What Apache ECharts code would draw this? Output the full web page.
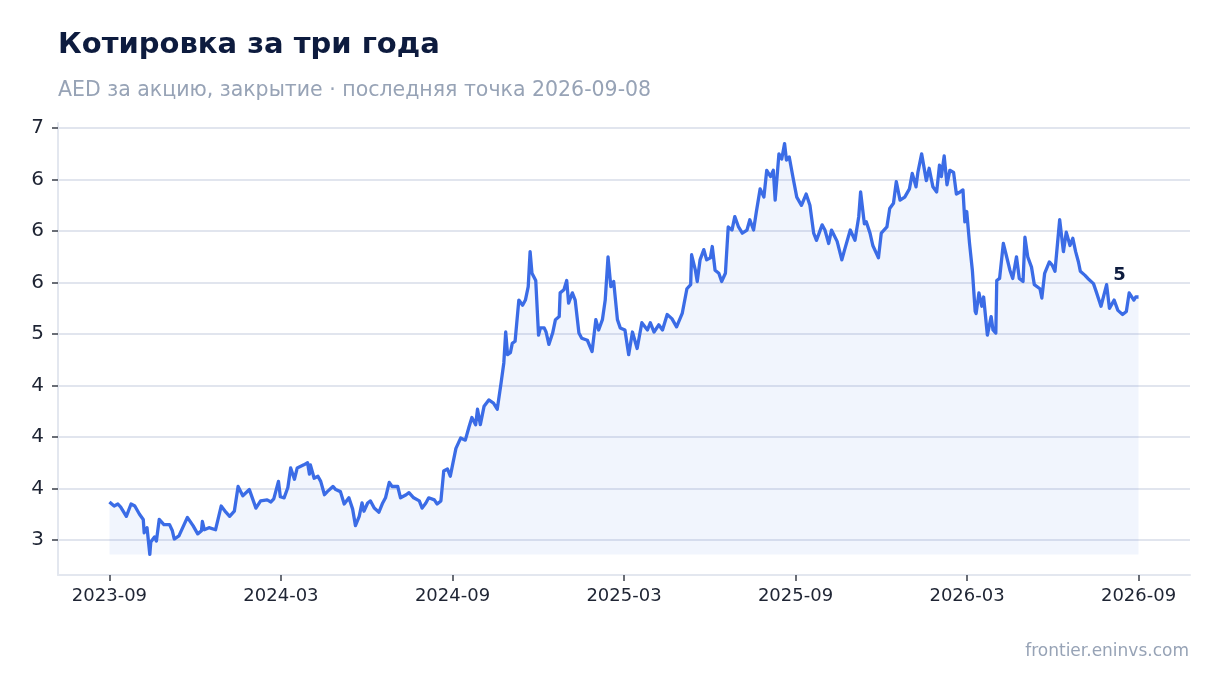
<!DOCTYPE html>
<html lang="ru">
<head>
<meta charset="utf-8">
<title>Котировка за три года</title>
<script src="https://cdn.jsdelivr.net/npm/echarts@6/dist/echarts.min.js"></script>
<style>
  html, body { margin: 0; padding: 0; background: #fff; }
  #chart { width: 1220px; height: 693px; }
</style>
</head>
<body>
<div id="chart"></div>
<script>
// days since the first close (2023-09-08) and closing price, AED per share
const days = [
  0, 5, 9, 12, 18, 23, 27, 32, 36, 37, 40, 43, 44, 48, 50, 53, 58, 64, 67, 69, 74, 83, 89, 94, 98, 99,
  101, 106, 113, 119, 124, 128, 133, 137, 142, 149, 156, 161, 168, 172, 175, 180, 182, 186,
  190, 193, 197, 200, 207, 211, 213, 214, 218, 222, 225, 229, 232, 238, 241, 246, 250, 255, 259, 262,
  266, 269, 271, 275, 278, 282, 287, 291, 294, 298, 301, 307, 310, 316, 319, 324, 330, 333, 337, 340,
  346, 349, 353, 356, 360, 363, 369, 374,
  379, 383, 386, 390, 392, 395, 399, 404, 409, 413, 417, 420, 422, 424, 427, 429, 432, 436, 440, 443,
  446, 448, 450, 454, 457, 459, 463, 465, 468, 472, 475, 479, 480, 484, 487, 489, 493, 496, 500, 503,
  509, 514, 518, 521, 525, 528, 531, 534, 537, 541, 544,
  549, 553, 557, 562, 567, 573, 576, 580, 585, 589, 594, 599, 604, 610, 615, 619, 620, 624, 626, 629,
  633, 636, 640, 642, 645, 649, 652, 656, 659, 663, 666, 670, 674, 679, 682, 686, 689, 693, 697, 700,
  704, 707, 709, 713, 716, 719, 721, 724, 728, 732,
  737, 742, 746, 750, 753, 759, 762, 766, 769, 775, 780, 783, 789, 794, 798, 800, 804, 806, 810, 813,
  815, 819, 822, 828, 831, 835, 838, 842, 847, 852, 855, 859, 861, 865, 870, 873, 877, 881, 884, 886,
  889, 892, 895, 899, 902, 906, 909, 911, 913, 916, 919, 922, 923,
  926, 929, 931, 935, 939, 941, 944, 945, 948, 952, 955, 959, 962, 966, 969, 973, 975, 978, 982, 985,
  991, 993, 996, 1001, 1004, 1007, 1012, 1016, 1019, 1023, 1026, 1029, 1032, 1034, 1039, 1042, 1048,
  1051, 1056, 1062, 1065, 1070, 1074, 1079, 1083, 1086, 1091, 1093, 1096
];
const closes = [
  3.37, 3.33, 3.35, 3.32, 3.23, 3.35, 3.33, 3.25, 3.20, 3.07, 3.12, 2.86, 2.98, 3.03, 2.99, 3.20, 3.15, 3.15, 3.09, 3.01, 3.04, 3.22, 3.14, 3.06, 3.09, 3.18,
  3.10, 3.12, 3.10, 3.33, 3.27, 3.23, 3.28, 3.52, 3.43, 3.49, 3.31, 3.38, 3.39, 3.37, 3.40, 3.57, 3.42, 3.41,
  3.51, 3.70, 3.59, 3.70, 3.73, 3.75, 3.64, 3.73, 3.60, 3.62, 3.57, 3.44, 3.47, 3.52, 3.49, 3.47, 3.35, 3.41, 3.30, 3.14,
  3.23, 3.36, 3.28, 3.36, 3.38, 3.31, 3.27, 3.36, 3.41, 3.56, 3.52, 3.52, 3.41, 3.44, 3.46, 3.41, 3.38, 3.31, 3.36, 3.41,
  3.39, 3.35, 3.38, 3.67, 3.69, 3.62, 3.89, 3.99,
  3.97, 4.10, 4.19, 4.12, 4.27, 4.12, 4.30, 4.36, 4.33, 4.27, 4.52, 4.72, 5.02, 4.80, 4.82, 4.91, 4.93, 5.33, 5.28, 5.33,
  5.46, 5.80, 5.59, 5.52, 4.99, 5.06, 5.06, 5.02, 4.90, 5.01, 5.14, 5.17, 5.40, 5.43, 5.52, 5.30, 5.40, 5.33, 5.01, 4.96,
  4.94, 4.83, 5.14, 5.04, 5.14, 5.33, 5.75, 5.46, 5.51, 5.14, 5.06,
  5.04, 4.80, 5.02, 4.86, 5.11, 5.04, 5.11, 5.02, 5.09, 5.04, 5.19, 5.15, 5.07, 5.20, 5.44, 5.48, 5.77, 5.62, 5.51, 5.72,
  5.82, 5.72, 5.74, 5.85, 5.62, 5.59, 5.51, 5.59, 6.04, 6.01, 6.14, 6.04, 5.98, 6.01, 6.11, 6.01, 6.19, 6.41, 6.33, 6.59,
  6.53, 6.59, 6.30, 6.75, 6.70, 6.85, 6.69, 6.72, 6.52, 6.33,
  6.25, 6.36, 6.25, 5.98, 5.91, 6.06, 6.01, 5.88, 6.01, 5.90, 5.72, 5.82, 6.01, 5.91, 6.14, 6.38, 6.07, 6.09, 5.98, 5.86,
  5.85, 5.74, 5.98, 6.04, 6.22, 6.27, 6.48, 6.30, 6.33, 6.41, 6.56, 6.43, 6.57, 6.75, 6.49, 6.61, 6.43, 6.38, 6.64, 6.53,
  6.73, 6.45, 6.59, 6.57, 6.36, 6.38, 6.40, 6.09, 6.19, 5.88, 5.62, 5.22, 5.20,
  5.40, 5.27, 5.36, 4.99, 5.17, 5.04, 5.01, 5.52, 5.54, 5.88, 5.77, 5.62, 5.54, 5.75, 5.54, 5.51, 5.94, 5.75, 5.65, 5.48,
  5.44, 5.35, 5.59, 5.70, 5.67, 5.61, 6.11, 5.80, 5.99, 5.86, 5.93, 5.80, 5.70, 5.61, 5.57, 5.54, 5.49,
  5.41, 5.27, 5.48, 5.25, 5.33, 5.23, 5.19, 5.22, 5.40, 5.33, 5.36, 5.36
];
const xTickLabels = ['2023-09', '2024-03', '2024-09', '2025-03', '2025-09', '2026-03', '2026-09'];
const yTickValues = [3, 3.5, 4, 4.5, 5, 5.5, 6, 6.5, 7];
const yTickLabels = ['3', '4', '4', '4', '5', '6', '6', '6', '7'];
const lastPointLabel = '5';

const points = days.map((d, i) => [d, closes[i]]);
const span = days[days.length - 1];
const xTickValues = xTickLabels.map((_, i) => i * span / (xTickLabels.length - 1));
const lowClose = Math.min(...closes);
const highClose = Math.max(...closes);
const pad = (highClose - lowClose) * 0.05;

const FONT = 'DejaVu Sans';
const chart = echarts.init(document.getElementById('chart'));

chart.setOption({
    animation: false,
    backgroundColor: '#ffffff',
    textStyle: { fontFamily: FONT },
    title: [
        {
            text: 'Котировка за три года',
            left: 53, top: 26,
            textStyle: { fontFamily: FONT, fontSize: 29, fontWeight: 'bold', color: '#0d1b3e' }
        },
        {
            text: 'AED за акцию, закрытие · последняя точка 2026-09-08',
            left: 53, top: 75,
            textStyle: { fontFamily: FONT, fontSize: 20.5, fontWeight: 'normal', color: '#97a3b6' }
        }
    ],
    graphic: [{
        type: 'text',
        right: 31, top: 643,
        style: { text: 'frontier.eninvs.com', fontFamily: FONT, fontSize: 17, fill: '#97a3b6' }
    }],
    grid: { left: 58, right: 30, top: 123, bottom: 118, containLabel: false },
    xAxis: {
        type: 'value',
        min: -span * 0.05,
        max: span * 1.05,
        splitLine: { show: false },
        axisLine: { show: true, onZero: false, lineStyle: { color: '#e3e7ef', width: 2 } },
        axisTick: { show: true, customValues: xTickValues, length: 6, lineStyle: { color: '#3a3f4a', width: 1.5 } },
        axisLabel: {
            customValues: xTickValues,
            margin: 12,
            fontSize: 18,
            color: '#1e2433',
            formatter: (v) => xTickLabels[Math.round(v / (span / (xTickLabels.length - 1)))]
        }
    },
    yAxis: {
        type: 'value',
        min: lowClose - pad,
        max: highClose + pad,
        axisLine: { show: true, onZero: false, lineStyle: { color: '#e3e7ef', width: 2 } },
        axisTick: { show: true, customValues: yTickValues, length: 6, lineStyle: { color: '#3a3f4a', width: 1.5 } },
        splitLine: { show: true, lineStyle: { color: '#e1e5ee', width: 2 } },
        axisLabel: {
            customValues: yTickValues,
            margin: 14,
            fontSize: 20,
            color: '#1e2433',
            formatter: (v) => yTickLabels[yTickValues.findIndex(t => Math.abs(t - v) < 1e-6)]
        }
    },
    series: [{
        type: 'line',
        data: points,
        showSymbol: false,
        lineStyle: { color: '#3b6ce6', width: 3.3, join: 'round' },
        itemStyle: { color: '#3b6ce6' },
        areaStyle: { color: 'rgba(59,108,230,0.1)', origin: lowClose },
        markPoint: {
            symbol: 'circle',
            symbolSize: 1,
            itemStyle: { color: 'rgba(0,0,0,0)' },
            data: [{ coord: points[points.length - 1], value: lastPointLabel }],
            label: {
                show: true,
                formatter: lastPointLabel,
                offset: [-19, -22],
                fontFamily: FONT,
                fontSize: 18,
                fontWeight: 'bold',
                color: '#0d1b3e'
            }
        }
    }]
});
</script>
</body>
</html>
